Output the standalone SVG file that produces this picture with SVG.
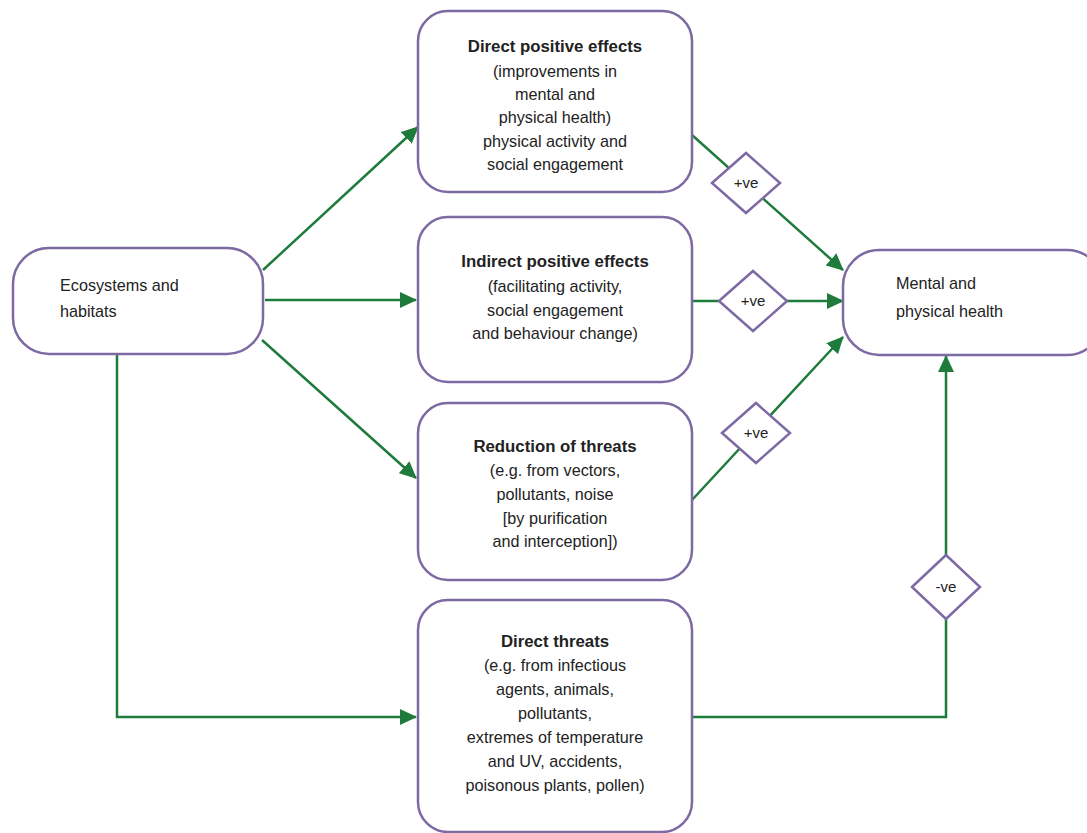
<svg xmlns="http://www.w3.org/2000/svg" width="1087" height="833" viewBox="0 0 1087 833">
<defs>
<marker id="ah" markerUnits="userSpaceOnUse" markerWidth="18" markerHeight="16" refX="16" refY="8" orient="auto">
<path d="M0,0 L17,8 L0,16 Z" fill="#1e7b3c"/>
</marker>
<style>
.box{fill:#fff;stroke:#7d6aa3;stroke-width:2.5}
.dia{fill:#fff;stroke:#7d6aa3;stroke-width:2.5}
.con{fill:none;stroke:#1e7b3c;stroke-width:2.5}
.t{font-family:"Liberation Sans",Arial,sans-serif;font-size:16.2px;fill:#222}
.c{text-anchor:middle}
.b{font-weight:bold;font-size:16.8px}
.s{font-family:"Liberation Sans",Arial,sans-serif;font-size:15px;fill:#222;text-anchor:middle}
</style>
</defs>
<rect width="1087" height="833" fill="#fff"/>
<g id="connectors">
<line class="con" x1="263" y1="270" x2="418" y2="127" marker-end="url(#ah)"/>
<line class="con" x1="265" y1="300" x2="416" y2="300" marker-end="url(#ah)"/>
<line class="con" x1="262" y1="340" x2="416" y2="478" marker-end="url(#ah)"/>
<polyline class="con" points="117,354 117,717 416,717" marker-end="url(#ah)"/>
<line class="con" x1="692" y1="135" x2="843" y2="270" marker-end="url(#ah)"/>
<line class="con" x1="692" y1="301" x2="843" y2="301" marker-end="url(#ah)"/>
<line class="con" x1="692" y1="500" x2="843" y2="337" marker-end="url(#ah)"/>
<polyline class="con" points="692,717 946,717 946,356" marker-end="url(#ah)"/>
</g>
<g id="ecosystems">
<rect class="box" x="13" y="248" width="250" height="106" rx="36"/>
<text class="t" x="60" y="291">Ecosystems and</text>
<text class="t" x="60" y="317">habitats</text>
</g>
<g id="direct-positive">
<rect class="box" x="418" y="11" width="274" height="181" rx="30"/>
<text class="t c b" x="555" y="52">Direct positive effects</text>
<text class="t c" x="555" y="77">(improvements in</text>
<text class="t c" x="555" y="100">mental and</text>
<text class="t c" x="555" y="123">physical health)</text>
<text class="t c" x="555" y="147">physical activity and</text>
<text class="t c" x="555" y="170">social engagement</text>
</g>
<g id="indirect-positive">
<rect class="box" x="418" y="217" width="274" height="165" rx="30"/>
<text class="t c b" x="555" y="267">Indirect positive effects</text>
<text class="t c" x="555" y="292">(facilitating activity,</text>
<text class="t c" x="555" y="316">social engagement</text>
<text class="t c" x="555" y="339">and behaviour change)</text>
</g>
<g id="reduction">
<rect class="box" x="418" y="403" width="274" height="177" rx="30"/>
<text class="t c b" x="555" y="452">Reduction of threats</text>
<text class="t c" x="555" y="476">(e.g. from vectors,</text>
<text class="t c" x="555" y="500">pollutants, noise</text>
<text class="t c" x="555" y="524">[by purification</text>
<text class="t c" x="555" y="547">and interception])</text>
</g>
<g id="direct-threats">
<rect class="box" x="418" y="600" width="274" height="232" rx="30"/>
<text class="t c b" x="555" y="647">Direct threats</text>
<text class="t c" x="555" y="671">(e.g. from infectious</text>
<text class="t c" x="555" y="695">agents, animals,</text>
<text class="t c" x="555" y="719">pollutants,</text>
<text class="t c" x="555" y="743">extremes of temperature</text>
<text class="t c" x="555" y="767">and UV, accidents,</text>
<text class="t c" x="555" y="791">poisonous plants, pollen)</text>
</g>
<g id="mental-health">
<rect class="box" x="843" y="250" width="260" height="105" rx="36"/>
<text class="t" x="896" y="289">Mental and</text>
<text class="t" x="896" y="317">physical health</text>
</g>
<g id="d1">
<polygon class="dia" points="712,183 746,153 780,183 746,213"/>
<text class="s" x="746" y="188">+ve</text>
</g>
<g id="d2">
<polygon class="dia" points="719,301 753,271 787,301 753,331"/>
<text class="s" x="753" y="306">+ve</text>
</g>
<g id="d3">
<polygon class="dia" points="722,433 756,403 790,433 756,463"/>
<text class="s" x="756" y="438">+ve</text>
</g>
<g id="d4">
<polygon class="dia" points="912,587 946,555 980,587 946,619"/>
<text class="s" x="946" y="592">-ve</text>
</g>
</svg>
